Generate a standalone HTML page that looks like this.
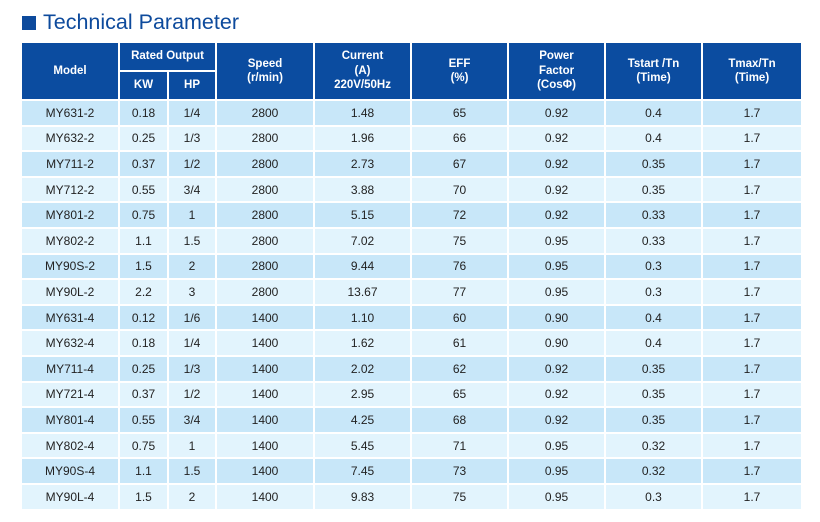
<!DOCTYPE html>
<html><head><meta charset="utf-8"><style>
body{margin:0;width:820px;height:522px;background:#fff;font-family:"Liberation Sans",Arial,sans-serif;overflow:hidden;position:relative}
.title{position:absolute;left:22px;top:9px;font-size:21.5px;color:#0d4a9c;line-height:26px;white-space:nowrap}
.sq{display:inline-block;width:14px;height:14px;background:#0d4a9c;margin-right:7px;vertical-align:-1px}
table{position:absolute;left:20px;top:41px;border-collapse:collapse;table-layout:fixed;width:781px}
td,th{border:2px solid #fff;text-align:center;padding:0;font-size:12px;color:#222}
th{background:#0b4ca0;color:#fff;font-weight:bold;font-size:11.5px;line-height:14.5px}
tbody tr{height:25.6px}
tbody tr:nth-child(odd) td{background:#c8e7f9}
tbody tr:nth-child(even) td{background:#e2f4fd}
</style></head><body>
<div class="title"><span class="sq"></span>Technical Parameter</div>
<table>
<colgroup><col style="width:98px"><col style="width:49px"><col style="width:48px"><col style="width:98px"><col style="width:97px"><col style="width:97px"><col style="width:97px"><col style="width:97px"><col style="width:100px"></colgroup>
<thead>
<tr style="height:29px"><th rowspan="2">Model</th><th colspan="2">Rated Output</th><th rowspan="2">Speed<br>(r/min)</th><th rowspan="2">Current<br>(A)<br>220V/50Hz</th><th rowspan="2">EFF<br>(%)</th><th rowspan="2">Power<br>Factor<br>(CosΦ)</th><th rowspan="2">Tstart /Tn<br>(Time)</th><th rowspan="2">Tmax/Tn<br>(Time)</th></tr>
<tr style="height:29px"><th>KW</th><th>HP</th></tr>
</thead>
<tbody id="tb"></tbody>
</table>
<script>
const models=["MY631-2","MY632-2","MY711-2","MY712-2","MY801-2","MY802-2","MY90S-2","MY90L-2","MY631-4","MY632-4","MY711-4","MY721-4","MY801-4","MY802-4","MY90S-4","MY90L-4"];
const kw=["0.18","0.25","0.37","0.55","0.75","1.1","1.5","2.2","0.12","0.18","0.25","0.37","0.55","0.75","1.1","1.5"];
const hp=["1/4","1/3","1/2","3/4","1","1.5","2","3","1/6","1/4","1/3","1/2","3/4","1","1.5","2"];
const speed=["2800","2800","2800","2800","2800","2800","2800","2800","1400","1400","1400","1400","1400","1400","1400","1400"];
const current=["1.48","1.96","2.73","3.88","5.15","7.02","9.44","13.67","1.10","1.62","2.02","2.95","4.25","5.45","7.45","9.83"];
const eff=["65","66","67","70","72","75","76","77","60","61","62","65","68","71","73","75"];
const pf=["0.92","0.92","0.92","0.92","0.92","0.95","0.95","0.95","0.90","0.90","0.92","0.92","0.92","0.95","0.95","0.95"];
const tstart=["0.4","0.4","0.35","0.35","0.33","0.33","0.3","0.3","0.4","0.4","0.35","0.35","0.35","0.32","0.32","0.3"];
const tmax=["1.7","1.7","1.7","1.7","1.7","1.7","1.7","1.7","1.7","1.7","1.7","1.7","1.7","1.7","1.7","1.7"];
const cols=[["model",models],["kw",kw],["hp",hp],["speed",speed],["current",current],["eff",eff],["power-factor",pf],["tstart",tstart],["tmax",tmax]];
const tb=document.getElementById('tb');
models.forEach((m,i)=>{
  const tr=document.createElement('tr');
  
  
  cols.forEach(([n,arr])=>{
    const td=document.createElement('td');
    
    
    td.textContent=arr[i];
    tr.appendChild(td);
  });
  tb.appendChild(tr);
});
</script>
</body></html>
